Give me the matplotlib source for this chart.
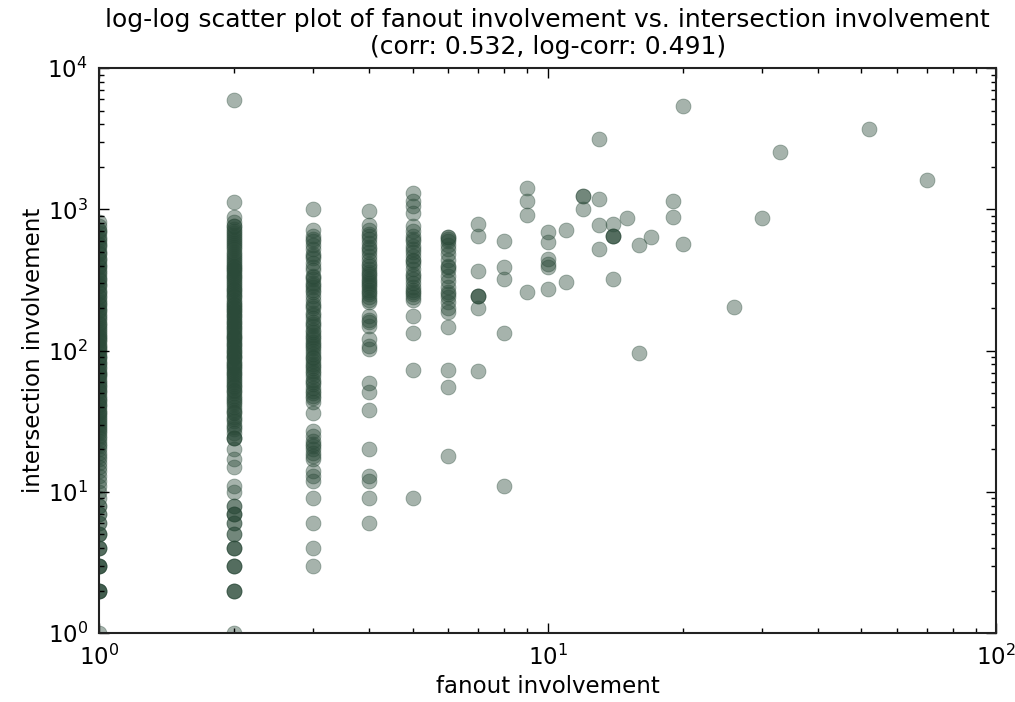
import matplotlib
matplotlib.use('Agg')
import matplotlib.pyplot as plt
import numpy as np

# intersection involvement for each fanout value
y_f1 = [1, 2, 2, 2, 2, 3, 3, 3, 3, 4, 4, 4, 5, 5, 5, 6, 6, 7, 7, 8, 8, 9, 10, 11, 12, 13,
        14, 15, 16, 17, 18, 19, 20, 21, 22, 23, 24, 25, 26, 27, 28, 29, 30, 31, 32, 33,
        34, 35, 36, 37, 38, 40, 41, 42, 44, 45, 46, 48, 50, 52, 53, 55, 56, 58, 60, 62,
        65, 67, 68, 70, 72, 75, 77, 80, 82, 84, 88, 90, 92, 96, 100, 103, 105, 108, 110,
        115, 118, 120, 125, 128, 132, 135, 140, 145, 150, 155, 158, 165, 170, 175, 182,
        190, 195, 200, 210, 215, 220, 230, 240, 245, 255, 262, 270, 285, 292, 300, 315,
        322, 330, 350, 360, 370, 390, 400, 410, 430, 445, 455, 480, 495, 510, 540, 555,
        570, 600, 620, 640, 680, 700, 720, 760, 810]
y_f2 = [1, 2, 2, 2, 3, 3, 3, 4, 4, 4, 5, 5, 6, 6, 7, 7, 7, 8, 8, 10, 11, 15, 17, 20,
        24, 24, 24, 26, 28, 29, 30, 32, 33, 34, 36, 37, 38, 40, 42, 43, 45, 46, 48, 50,
        52, 53, 55, 56, 58, 60, 62, 64, 66, 68, 70, 72, 74, 76, 78, 80, 82, 85, 88, 90,
        92, 95, 98, 100, 103, 106, 109, 112, 115, 118, 122, 125, 128, 132, 136, 140, 144,
        148, 152, 156, 160, 165, 170, 175, 180, 185, 190, 195, 200, 205, 210, 215, 222,
        230, 238, 245, 252, 260, 268, 275, 282, 290, 300, 310, 320, 330, 340, 350, 360,
        370, 380, 390, 400, 410, 425, 440, 455, 470, 485, 500, 520, 540, 560, 580, 600,
        620, 640, 660, 680, 700, 730, 760, 760, 810, 890, 1120, 5930]
y_f3 = [3, 4, 6, 9, 12, 13, 14, 17, 18, 19, 20, 21, 22, 23, 25, 27, 36, 43, 46, 48, 50,
        52, 54, 58, 60, 62, 66, 70, 72, 75, 78, 80, 85, 88, 90, 95, 100, 105, 108, 112,
        116, 120, 125, 130, 135, 140, 150, 155, 160, 170, 178, 185, 200, 208, 215, 230,
        245, 260, 270, 280, 290, 300, 320, 330, 340, 370, 390, 420, 450, 465, 480, 520,
        560, 600, 620, 650, 720, 1000]
y_f4 = [6, 9, 12, 13, 20, 38, 51, 59, 102, 108, 120, 150, 160, 165, 175, 220, 230, 240,
        250, 260, 270, 280, 290, 300, 310, 320, 340, 350, 360, 380, 400, 410, 440, 470,
        500, 520, 540, 580, 620, 650, 670, 720, 780, 970]
y_f5 = [9, 73, 134, 175, 230, 240, 250, 260, 270, 280, 300, 320, 340, 350, 380, 410, 430,
        440, 470, 500, 520, 550, 600, 620, 650, 700, 760, 950, 1050, 1140, 1300]
y_f6 = [18, 55, 73, 148, 188, 200, 220, 240, 250, 260, 280, 310, 340, 370, 390, 400, 440,
        480, 520, 560, 600, 620, 640, 640]

# sparse points for larger fanout values
x_sparse = [7, 7, 7, 7, 7, 7, 7, 7,
            8, 8, 8, 8, 8,
            9, 9, 9, 9,
            10, 10, 10, 10, 10, 10,
            11, 11,
            12, 12, 12,
            13, 13, 13, 13,
            14, 14, 14, 14, 14,
            15, 16, 16, 17, 19, 19, 20, 20,
            26, 30, 33, 52, 70]
y_sparse = [783, 644, 369, 242, 242, 242, 202, 72,
            593, 394, 319, 134, 11,
            1409, 1140, 906, 258,
            687, 583, 442, 410, 388, 275,
            710, 308,
            1237, 1237, 1000,
            3135, 1178, 770, 520,
            783, 644, 644, 644, 319,
            863, 555, 97, 633, 1140, 878, 5375, 565,
            205, 863, 2536, 3690, 1606]

columns = [y_f1, y_f2, y_f3, y_f4, y_f5, y_f6]
x = []
y = []
for i, col in enumerate(columns):
    x += [i + 1] * len(col)
    y += col
x = np.array(x + x_sparse, dtype=float)
y = np.array(y + y_sparse, dtype=float)

plt.rcParams['font.family'] = 'DejaVu Sans'
plt.rcParams['font.size'] = 16.5

fig = plt.figure(figsize=(10.15, 7.02), dpi=100)
ax = fig.add_axes([0.0975, 0.098, 0.884, 0.805])
ax.scatter(x, y, s=115, c='#2b4a39', alpha=0.42, edgecolors='#2b4a39', linewidths=0.6)
ax.set_xscale('log')
ax.set_yscale('log')
ax.set_xlim(1, 100)
ax.set_ylim(1, 10000)
ax.set_xlabel('fanout involvement', labelpad=4)
ax.set_ylabel('intersection involvement', labelpad=2)
ax.set_title('log-log scatter plot of fanout involvement vs. intersection involvement\n'
             '(corr: 0.532, log-corr: 0.491)', fontsize=18, linespacing=1.15, pad=10)
ax.tick_params(which='both', direction='in', top=True, right=True, width=1)
ax.tick_params(which='major', length=7, pad=8, labelsize=16.5)
ax.tick_params(which='minor', length=3.5)
for sp in ax.spines.values():
    sp.set_linewidth(1.5)
    sp.set_color('#222222')

fig.savefig('out.png', dpi=100)
